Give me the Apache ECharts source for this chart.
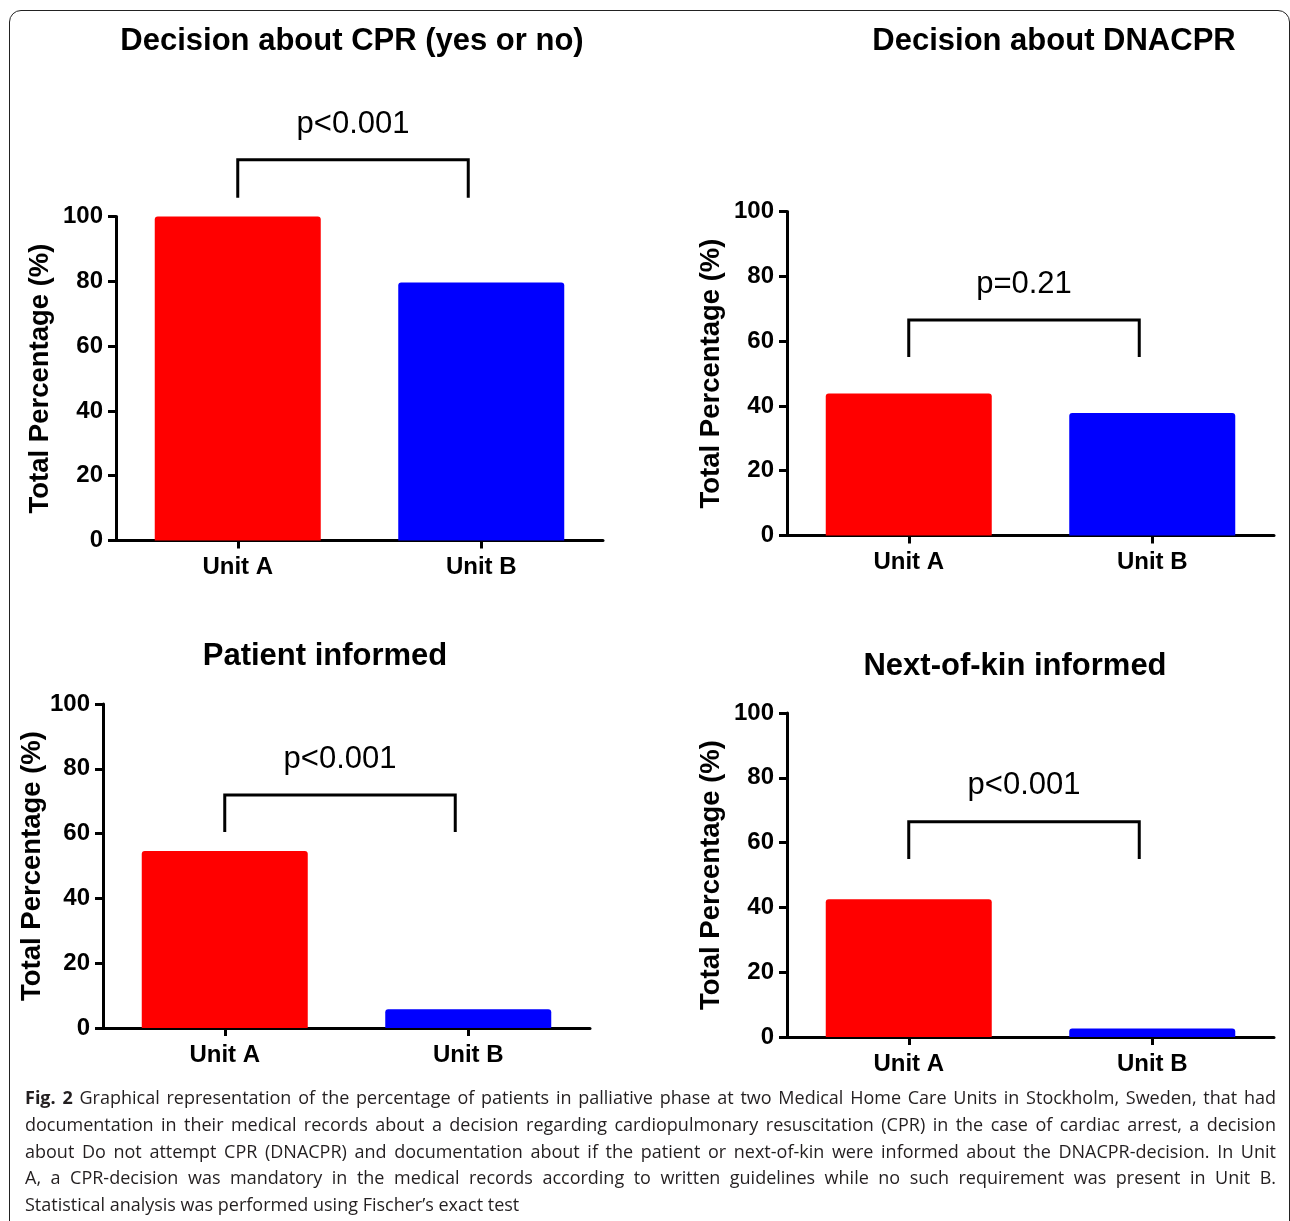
<!DOCTYPE html>
<html><head><meta charset="utf-8">
<script src="https://cdn.jsdelivr.net/npm/echarts@6/dist/echarts.min.js"></script>
<style>
html,body{margin:0;padding:0;background:#fff;}
#wrap{position:relative;width:1290px;height:1221px;overflow:hidden;background:#fff;}
#chart{position:absolute;left:0;top:0;width:1290px;height:1221px;}
#frame{position:absolute;left:9px;top:10px;width:1281px;height:1260px;border:1.6px solid #222;border-radius:12px;box-sizing:border-box;pointer-events:none;}
#caption{position:absolute;left:25px;top:1084px;width:1251px;font-family:'Open Sans','Noto Sans',sans-serif;font-size:18px;line-height:26.8px;color:#231f20;}
#caption div{white-space:nowrap;height:26.8px;}
#caption span.ln{display:inline-block;transform-origin:0 50%;}
</style></head>
<body>
<div id="wrap">
<div id="chart"></div>
<div id="frame"></div>
<div id="caption">
<div><span class="ln"><b>Fig. 2</b> Graphical representation of the percentage of patients in palliative phase at two Medical Home Care Units in Stockholm, Sweden, that had</span></div>
<div><span class="ln">documentation in their medical records about a decision regarding cardiopulmonary resuscitation (CPR) in the case of cardiac arrest, a decision</span></div>
<div><span class="ln">about Do not attempt CPR (DNACPR) and documentation about if the patient or next-of-kin were informed about the DNACPR-decision. In Unit</span></div>
<div><span class="ln">A, a CPR-decision was mandatory in the medical records according to written guidelines while no such requirement was present in Unit B.</span></div>
<div><span class="ln last">Statistical analysis was performed using Fischer’s exact test</span></div>
</div>
</div>
<script>
const categories = ['Unit A', 'Unit B'];
const cprDecision = [100, 79.6];
const dnacprDecision = [43.8, 37.8];
const patientInformed = [54.6, 5.8];
const nextOfKinInformed = [42.5, 2.6];
const panelTitles = ['Decision about CPR (yes or no)', 'Decision about DNACPR', 'Patient informed', 'Next-of-kin informed'];
const pLabels = ['p<0.001', 'p=0.21', 'p<0.001', 'p<0.001'];
const yAxisName = 'Total Percentage (%)';
const yMin = 0, yMax = 100, yStep = 20;
const barColors = ['#ff0000', '#0000ff'];
// bracket levels in data units (%)
const bracketTop = [117.5, 66.5, 71.9, 66.4];
const bracketFoot = [105.8, 55.1, 60.5, 54.9];
const pLabelLevel = [128.3, 77.6, 83.0, 77.5];

const panelData = [cprDecision, dnacprDecision, patientInformed, nextOfKinInformed];
const FONT = "'Liberation Sans', Arial, Helvetica, sans-serif";

const grids = [
  {left: 116, top: 216.5, width: 487, height: 324},
  {left: 787, top: 211.5, width: 487, height: 324},
  {left: 103, top: 704, width: 487, height: 324},
  {left: 787, top: 713, width: 487, height: 324}
];
const nameGaps = [62, 62, 50, 62];
const titlePos = [[352, 41], [1054, 41], [325, 656], [1015, 666]];

const chart = echarts.init(document.getElementById('chart'), null, {renderer: 'canvas'});

const axisLineStyle = {color: '#000', width: 3};
const xAxes = grids.map((g, i) => ({
  type: 'category', gridIndex: i, data: categories,
  axisLine: {show: true, lineStyle: axisLineStyle},
  axisTick: {show: true, alignWithLabel: true, length: 8, lineStyle: {color: '#000', width: 3}},
  axisLabel: {color: '#000', fontFamily: FONT, fontWeight: 'bold', fontSize: 24, margin: 15},
  splitLine: {show: false}
}));
const yAxes = grids.map((g, i) => ({
  type: 'value', gridIndex: i, min: yMin, max: yMax, interval: yStep,
  name: yAxisName, nameLocation: 'middle', nameGap: nameGaps[i],
  nameTextStyle: {color: '#000', fontFamily: FONT, fontWeight: 'bold', fontSize: 27.5},
  axisLine: {show: true, lineStyle: axisLineStyle},
  axisTick: {show: true, length: 8, lineStyle: {color: '#000', width: 3}},
  axisLabel: {color: '#000', fontFamily: FONT, fontWeight: 'bold', fontSize: 24, margin: 13},
  splitLine: {show: false}
}));
const series = panelData.map((d, i) => ({
  type: 'bar', xAxisIndex: i, yAxisIndex: i, data: d, barWidth: 166,
  itemStyle: {color: p => barColors[p.dataIndex], borderRadius: [3, 3, 0, 0]},
  silent: true, animation: false
}));

chart.setOption({
  animation: false,
  backgroundColor: 'transparent',
  grid: grids.map(g => Object.assign({containLabel: false}, g)),
  xAxis: xAxes, yAxis: yAxes, series: series
});

const graphics = [];
panelTitles.forEach((t, i) => {
  graphics.push({type: 'text', x: titlePos[i][0], y: titlePos[i][1], silent: true,
    style: {text: t, fill: '#000', font: 'bold 31px ' + FONT, textAlign: 'center', textVerticalAlign: 'middle'}});
});
panelData.forEach((d, i) => {
  const a = chart.convertToPixel({xAxisIndex: i, yAxisIndex: i}, [0, bracketTop[i]]);
  const b = chart.convertToPixel({xAxisIndex: i, yAxisIndex: i}, [1, bracketTop[i]]);
  const f = chart.convertToPixel({xAxisIndex: i, yAxisIndex: i}, [0, bracketFoot[i]]);
  const pl = chart.convertToPixel({xAxisIndex: i, yAxisIndex: i}, [0, pLabelLevel[i]]);
  const xA = a[0], xB = b[0] - 13, yT = a[1], yF = f[1];
  graphics.push({type: 'polyline', silent: true,
    shape: {points: [[xA, yF], [xA, yT], [xB, yT], [xB, yF]]},
    style: {stroke: '#000', lineWidth: 3, fill: null, lineJoin: 'miter'}});
  graphics.push({type: 'text', x: (xA + xB) / 2, y: pl[1], silent: true,
    style: {text: pLabels[i], fill: '#000', font: '31px ' + FONT, textAlign: 'center', textVerticalAlign: 'middle'}});
});
chart.setOption({graphic: graphics});

// caption: condense glyphs to match the reference, then justify lines 1-4 by word spacing
(function () {
  const target = 1251, lastTarget = 502;
  const spans = Array.from(document.querySelectorAll('#caption span.ln'));
  const last = spans.find(s => s.classList.contains('last'));
  const k = Math.min(1, lastTarget / last.getBoundingClientRect().width);
  spans.forEach(s => {
    const w = s.getBoundingClientRect().width;
    if (!s.classList.contains('last')) {
      const nSpaces = (s.textContent.match(/ /g) || []).length;
      const extra = (target / k - w) / nSpaces;
      s.style.wordSpacing = extra + 'px';
    }
    s.style.transform = 'scaleX(' + k + ')';
  });
  // correct any residual width error
  spans.forEach(s => {
    if (s.classList.contains('last')) return;
    const w = s.getBoundingClientRect().width;
    const k2 = k * target / w;
    s.style.transform = 'scaleX(' + k2 + ')';
  });
})();
</script>
</body></html>
